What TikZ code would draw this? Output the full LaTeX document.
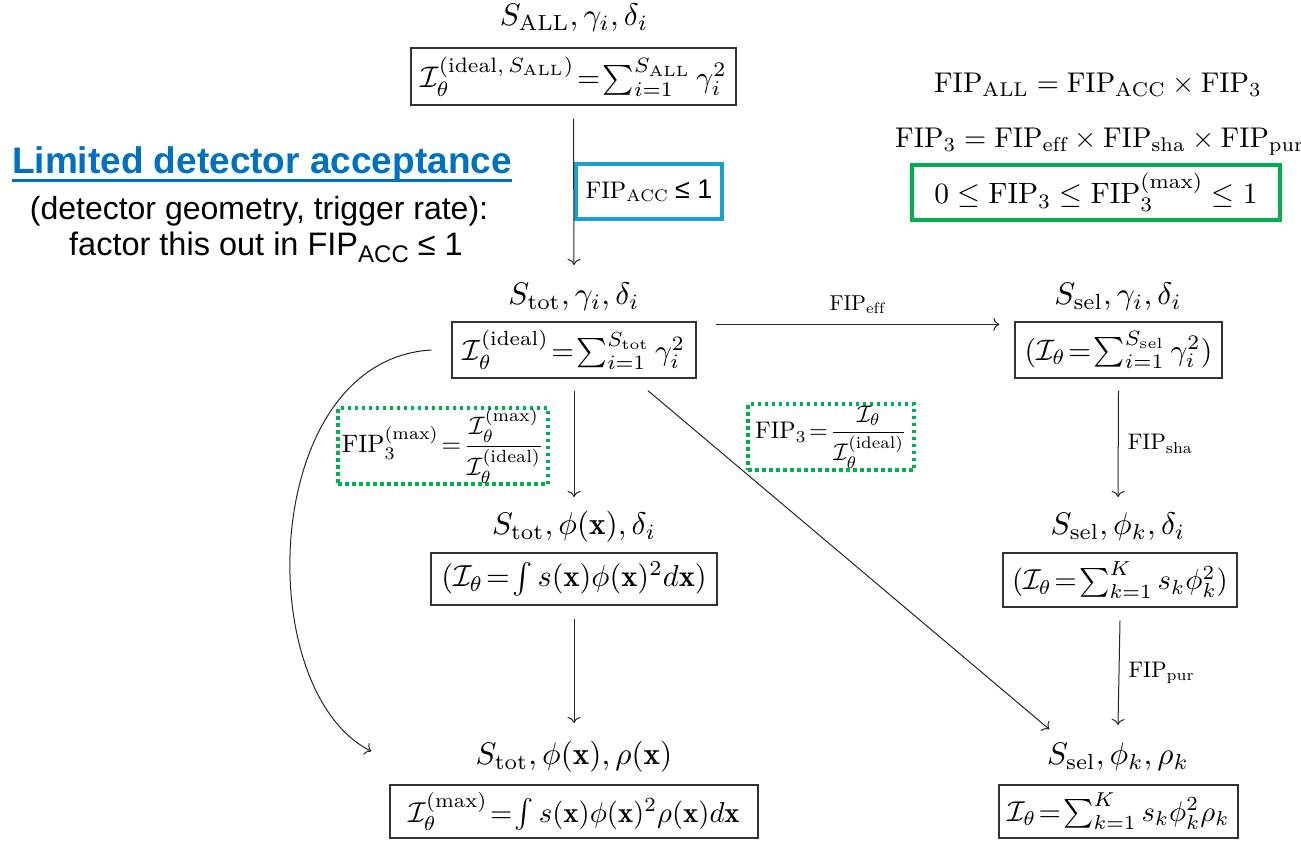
\documentclass[tikz,border=0pt]{standalone}
\usepackage{amsmath}
\usepackage{graphicx}
\usepackage{fontspec}
\newfontfamily\arial{Liberation Sans}
\usetikzlibrary{arrows.meta,calc}
\definecolor{accblue}{HTML}{0070C0}
\definecolor{boxblue}{HTML}{1CA0D0}
\definecolor{fipgreen}{HTML}{00B050}
\newcommand\mscale[2]{\scalebox{#1}{$#2$}}
\newcommand\bscale[2]{\scalebox{#1}{$\thickmuskip=1.5mu #2$}}
\tikzset{
  mlabel/.style={inner sep=0pt},
  mbox/.style={draw=black!80, line width=1.3pt, inner sep=0pt},
  arr/.style={-{To[length=6pt,width=13pt]}, line width=1pt, draw=black!85},
  flbl/.style={inner sep=0pt},
  dotbox/.style={draw=fipgreen, line width=3.5pt, dash pattern=on 3.5pt off 3.5pt, inner sep=0pt},
  sanstext/.style={inner sep=0pt, font=\arial\fontsize{32.5}{36}\selectfont},
}
\begin{document}
\begin{tikzpicture}[x=1pt,y=-1pt]
\useasboundingbox (0,0) rectangle (1301,841);
% left explanatory text
\node[inner sep=0pt, text=accblue, font=\arial\bfseries\fontsize{37}{42}\selectfont] (lim) at (262,164) {Limited detector acceptance};
\draw[accblue, line width=3pt] ($(lim.base west)+(0,7)$) -- ($(lim.base east)+(0,7)$);
\node[inner sep=0pt, font=\arial\fontsize{32}{36}\selectfont] (geo) at (259,211) {(detector geometry, trigger rate):};
\node[sanstext] (fac) at (266,247) {factor this out in FIP{\fontsize{24}{28}\selectfont\raisebox{-7pt}{ACC}} ≤ 1};
% top right equations
\node[inner sep=0pt] (eqa) at (1098,85) {\mscale{2.85}{\mathrm{FIP}_{\mathrm{ALL}}=\mathrm{FIP}_{\mathrm{ACC}}\times\mathrm{FIP}_3}};
\node[inner sep=0pt, anchor=west] (eqb) at (895,142) {\mscale{2.85}{\mathrm{FIP}_3=\mathrm{FIP}_{\mathrm{eff}}\times\mathrm{FIP}_{\mathrm{sha}}\times\mathrm{FIP}_{\mathrm{pur}}}};
\node[draw=fipgreen, line width=4pt, inner sep=0pt, minimum width=368pt, minimum height=55pt] (eqc) at (1096,192.5) {\mscale{2.94}{0\le\mathrm{FIP}_3\le\mathrm{FIP}_3^{(\max)}\le1}};
% top column
\node[mlabel] (tAll) at (574,18) {\mscale{3.12}{S_{\mathrm{ALL}},\gamma_i,\delta_i}};
\node[mbox, minimum width=325pt, minimum height=57pt] (bAll) at (573.5,76.5) {\bscale{2.98}{\mathcal{I}_\theta^{(\mathrm{ideal},\,S_{\mathrm{ALL}})}=\textstyle\sum_{i=1}^{S_{\mathrm{ALL}}}\gamma_i^2}};
\node[draw=boxblue, line width=4pt, inner sep=0pt, minimum width=146pt, minimum height=55pt] (acc) at (649,191) {\mscale{2.4}{\mathrm{FIP}_{\mathrm{ACC}}}\hspace{6pt}{\arial\fontsize{27}{32}\selectfont ≤ 1}};
\node[mlabel] (tTot) at (574,297) {\mscale{3.12}{S_{\mathrm{tot}},\gamma_i,\delta_i}};
\node[mbox, minimum width=244pt, minimum height=56pt] (bTot) at (574,350) {\bscale{2.92}{\mathcal{I}_\theta^{(\mathrm{ideal})}=\textstyle\sum_{i=1}^{S_{\mathrm{tot}}}\gamma_i^2}};
\node[mlabel] (tSel) at (1118,297) {\mscale{3.12}{S_{\mathrm{sel}},\gamma_i,\delta_i}};
\node[mbox, minimum width=207pt, minimum height=56pt] (bSel) at (1118.5,350) {\bscale{2.96}{(\mathcal{I}_\theta=\textstyle\sum_{i=1}^{S_{\mathrm{sel}}}\gamma_i^2)}};
\node[mlabel] (tTotPhi) at (574,527) {\mscale{3.12}{S_{\mathrm{tot}},\phi(\mathbf{x}),\delta_i}};
\node[mbox, minimum width=286pt, minimum height=52pt] (bTotPhi) at (574,579) {\bscale{3.04}{(\mathcal{I}_\theta=\textstyle\int s(\mathbf{x})\phi(\mathbf{x})^2d\mathbf{x})}};
\node[mlabel] (tSelPhi) at (1118,527) {\mscale{3.12}{S_{\mathrm{sel}},\phi_k,\delta_i}};
\node[mbox, minimum width=234pt, minimum height=54pt] (bSelPhi) at (1120,580) {\bscale{2.88}{(\mathcal{I}_\theta=\textstyle\sum_{k=1}^{K}s_k\phi_k^2)}};
\node[mlabel] (tTotRho) at (574,757) {\mscale{3.12}{S_{\mathrm{tot}},\phi(\mathbf{x}),\rho(\mathbf{x})}};
\node[mbox, minimum width=368pt, minimum height=53pt] (bTotRho) at (574,811.5) {\bscale{2.87}{\mathcal{I}_\theta^{(\max)}=\textstyle\int s(\mathbf{x})\phi(\mathbf{x})^2\rho(\mathbf{x})d\mathbf{x}}};
\node[mlabel] (tSelRho) at (1118,757) {\mscale{3.12}{S_{\mathrm{sel}},\phi_k,\rho_k}};
\node[mbox, minimum width=239pt, minimum height=53pt] (bSelRho) at (1118.5,811.5) {\bscale{2.87}{\mathcal{I}_\theta=\textstyle\sum_{k=1}^{K}s_k\phi_k^2\rho_k}};
% dotted ratio boxes
\node[dotbox, minimum width=210pt, minimum height=76pt] (r1) at (443,446) {\mscale{2.52}{\mathrm{FIP}_3^{(\max)}\!=\!\dfrac{\mathcal{I}_\theta^{(\max)}}{\mathcal{I}_\theta^{(\mathrm{ideal})}}}};
\node[dotbox, minimum width=166pt, minimum height=66pt] (r2) at (831,437) {\mscale{2.4}{\mathrm{FIP}_3\!=\!\dfrac{\mathcal{I}_\theta}{\mathcal{I}_\theta^{(\mathrm{ideal})}}}};
% connectors
\draw[arr] ($(bAll.south)+(0,13)$) -- ($(tTot.center)+(0,-32)$);
\draw[arr] ($(bTot.north east)+(19,3)$) -- node[flbl, above=10pt] (lEff) {\mscale{2.15}{\mathrm{FIP}_{\mathrm{eff}}}} ($(bSel.north west)+(-15,3)$);
\draw[arr] ($(bTot.south)+(0,12)$) -- ($(tTotPhi.center)+(0,-30)$);
\draw[arr] ($(bTotPhi.south)+(0,13)$) -- ($(tTotRho.center)+(0,-34)$);
\draw[arr] ($(bSel.south)+(0,12)$) -- node[flbl, right=9pt] (lSha) {\mscale{2.25}{\mathrm{FIP}_{\mathrm{sha}}}} ($(tSelPhi.center)+(0,-30)$);
\draw[arr] ($(bSelPhi.south)+(0,13)$) -- node[flbl, right=9pt] (lPur) {\mscale{2.25}{\mathrm{FIP}_{\mathrm{pur}}}} ($(tSelRho.center)+(0,-32)$);
\draw[arr] ($(bTot.south)+(74,12)$) -- ($(bSelRho.north west)+(51,-55)$);
\draw[arr] ($(bTot.west)+(-20,0)$) .. controls (260,360) and (250,690) .. ($(bTotRho.north west)+(-18,-33)$);
\end{tikzpicture}
\end{document}
